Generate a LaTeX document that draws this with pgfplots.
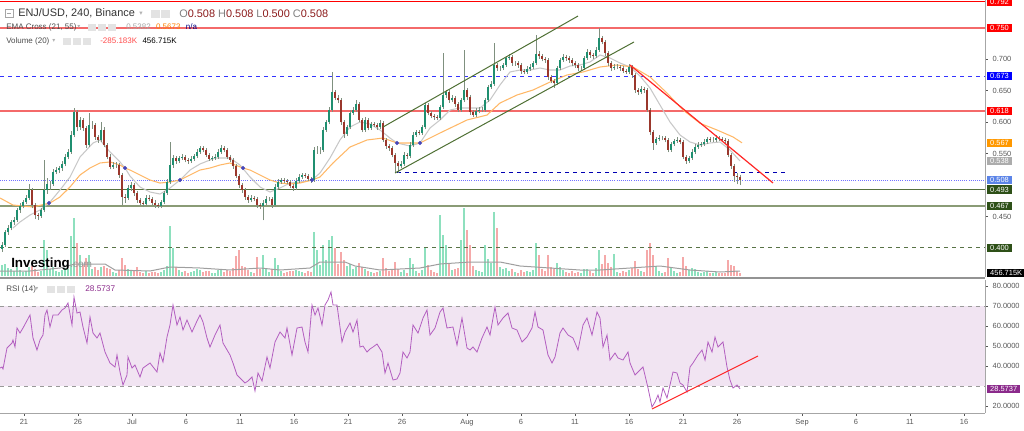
\documentclass[border=0pt]{standalone}
\usepackage{pgfplots}
\pgfplotsset{compat=1.18}
\usepackage{pgfplotstable}
\usepackage{fontspec}
\setmainfont{Liberation Sans}
\newfontfamily\dejavu{DejaVu Sans}
\definecolor{upc}{HTML}{1F8F70}
\definecolor{dnc}{HTML}{9A372C}
\definecolor{wickc}{HTML}{7F907F}
\definecolor{volg}{HTML}{8EE0BE}
\definecolor{volr}{HTML}{F5A9A9}
\definecolor{emag}{HTML}{C8C8C8}
\definecolor{emao}{HTML}{FFB868}
\definecolor{rsic}{HTML}{B35FC0}
\definecolor{rsifill}{HTML}{F1E4F2}
\definecolor{olive1}{HTML}{56703C}
\definecolor{olive2}{HTML}{8A9B76}
\definecolor{dgreen}{HTML}{2E5018}
\definecolor{chan}{HTML}{4F7034}
\definecolor{lred}{HTML}{F46A6A}
\definecolor{tickc}{HTML}{555555}
\definecolor{valred}{HTML}{8B1A1A}
\definecolor{rsibox}{HTML}{8B2A8B}
\pgfkeys{/pgf/number format/assume math mode=true}
\pgfplotstableread{
x o h l c v
2 0.398 0.410 0.394 0.405 1.6
5 0.405 0.428 0.402 0.425 1.8
8 0.425 0.436 0.421 0.432 1.2
11 0.432 0.445 0.428 0.441 1.0
14 0.441 0.449 0.437 0.445 0.7
17 0.445 0.464 0.442 0.460 1.3
20 0.460 0.471 0.456 0.467 0.9
23 0.467 0.477 0.463 0.473 0.6
26 0.473 0.484 0.470 0.480 0.8
29 0.480 0.502 0.477 0.492 1.4
32 0.492 0.495 0.463 0.468 1.5
35 0.468 0.471 0.446 0.452 1.1
38 0.452 0.456 0.445 0.451 0.6
41 0.451 0.464 0.448 0.460 0.8
44 0.460 0.540 0.457 0.492 5.4
47 0.492 0.512 0.486 0.502 3.9
50 0.502 0.507 0.493 0.502 1.0
53 0.502 0.525 0.499 0.521 1.4
56 0.521 0.529 0.517 0.524 0.7
59 0.524 0.531 0.520 0.527 0.6
62 0.527 0.538 0.523 0.534 0.9
65 0.534 0.550 0.530 0.545 1.2
68 0.545 0.557 0.541 0.553 1.0
71 0.553 0.586 0.550 0.580 6.0
74 0.580 0.623 0.576 0.616 8.7
77 0.616 0.619 0.586 0.592 5.0
80 0.592 0.609 0.588 0.604 3.2
83 0.604 0.607 0.586 0.591 1.6
86 0.591 0.594 0.559 0.564 2.7
89 0.564 0.615 0.561 0.596 3.2
92 0.596 0.602 0.590 0.596 1.1
95 0.596 0.599 0.572 0.577 1.3
98 0.577 0.580 0.567 0.572 0.9
101 0.572 0.600 0.569 0.588 1.4
104 0.588 0.592 0.560 0.564 1.5
107 0.564 0.567 0.541 0.545 1.2
110 0.545 0.549 0.525 0.529 1.0
113 0.529 0.537 0.526 0.532 0.6
116 0.532 0.536 0.528 0.532 0.5
119 0.532 0.535 0.512 0.516 0.9
122 0.516 0.519 0.468 0.481 2.7
125 0.481 0.486 0.472 0.480 1.6
128 0.480 0.500 0.477 0.495 1.1
131 0.495 0.505 0.491 0.500 0.8
134 0.500 0.503 0.483 0.487 0.7
137 0.487 0.491 0.472 0.476 1.3
140 0.476 0.480 0.468 0.472 0.6
143 0.472 0.475 0.465 0.470 0.5
146 0.470 0.484 0.467 0.480 0.7
149 0.480 0.484 0.474 0.478 0.5
152 0.478 0.481 0.468 0.472 0.6
155 0.472 0.476 0.464 0.468 0.6
158 0.468 0.471 0.463 0.467 0.4
161 0.467 0.477 0.464 0.473 0.6
164 0.473 0.491 0.470 0.487 0.9
167 0.487 0.509 0.484 0.505 1.5
170 0.505 0.568 0.502 0.532 7.5
173 0.532 0.548 0.528 0.543 4.2
176 0.543 0.546 0.534 0.538 1.4
179 0.538 0.547 0.535 0.543 0.9
182 0.543 0.549 0.540 0.545 0.6
185 0.545 0.548 0.536 0.540 0.7
188 0.540 0.543 0.534 0.538 0.5
191 0.538 0.546 0.535 0.542 0.6
194 0.542 0.550 0.539 0.546 0.8
197 0.546 0.557 0.543 0.553 1.0
200 0.553 0.563 0.550 0.559 0.9
203 0.559 0.562 0.552 0.556 0.6
206 0.556 0.559 0.544 0.548 0.8
209 0.548 0.551 0.538 0.542 0.7
212 0.542 0.547 0.539 0.543 0.4
215 0.543 0.549 0.540 0.545 0.5
218 0.545 0.557 0.542 0.553 0.9
221 0.553 0.564 0.550 0.559 1.1
224 0.559 0.562 0.552 0.556 0.6
227 0.556 0.559 0.541 0.545 0.9
230 0.545 0.548 0.536 0.540 0.7
233 0.540 0.543 0.526 0.530 1.2
236 0.530 0.533 0.511 0.515 3.0
239 0.515 0.518 0.496 0.500 3.9
242 0.500 0.503 0.488 0.492 1.5
245 0.492 0.495 0.477 0.481 1.3
248 0.481 0.484 0.472 0.476 0.9
251 0.476 0.484 0.473 0.480 0.6
254 0.480 0.483 0.474 0.478 0.5
257 0.478 0.481 0.464 0.468 2.9
260 0.468 0.471 0.462 0.467 1.0
263 0.467 0.476 0.444 0.472 3.2
266 0.472 0.482 0.469 0.478 1.2
269 0.478 0.481 0.474 0.478 0.6
272 0.478 0.481 0.464 0.468 1.1
275 0.468 0.501 0.465 0.497 2.7
278 0.497 0.509 0.494 0.505 1.6
281 0.505 0.512 0.502 0.508 0.8
284 0.508 0.511 0.503 0.507 0.5
287 0.507 0.510 0.501 0.505 0.6
290 0.505 0.508 0.495 0.499 0.7
293 0.499 0.502 0.491 0.495 0.8
296 0.495 0.511 0.492 0.507 0.9
299 0.507 0.517 0.504 0.513 0.8
302 0.513 0.520 0.510 0.516 0.6
305 0.516 0.519 0.511 0.515 0.5
308 0.515 0.518 0.506 0.510 0.7
311 0.510 0.513 0.504 0.508 0.6
314 0.508 0.560 0.505 0.556 6.6
317 0.556 0.562 0.550 0.556 3.9
320 0.556 0.560 0.549 0.556 1.6
323 0.556 0.592 0.553 0.588 4.7
326 0.588 0.604 0.585 0.600 2.4
329 0.600 0.624 0.597 0.620 5.4
332 0.620 0.680 0.617 0.648 6.0
335 0.648 0.652 0.635 0.639 4.2
338 0.639 0.643 0.630 0.635 1.8
341 0.635 0.638 0.596 0.600 3.6
344 0.600 0.603 0.575 0.581 2.4
347 0.581 0.596 0.578 0.592 1.5
350 0.592 0.619 0.589 0.615 1.8
353 0.615 0.624 0.612 0.620 1.0
356 0.620 0.636 0.617 0.629 1.3
359 0.629 0.632 0.600 0.604 1.9
362 0.604 0.607 0.584 0.588 1.4
365 0.588 0.608 0.585 0.604 1.0
368 0.604 0.607 0.587 0.591 0.8
371 0.591 0.601 0.588 0.597 0.6
374 0.597 0.600 0.593 0.596 0.5
377 0.596 0.599 0.588 0.592 0.6
380 0.592 0.603 0.589 0.599 0.7
383 0.599 0.602 0.568 0.572 2.7
386 0.572 0.575 0.558 0.562 1.2
389 0.562 0.565 0.555 0.559 0.7
392 0.559 0.562 0.544 0.548 1.0
395 0.548 0.551 0.520 0.535 2.1
398 0.535 0.538 0.520 0.530 1.1
401 0.530 0.538 0.527 0.534 0.6
404 0.534 0.552 0.531 0.548 0.9
407 0.548 0.551 0.542 0.546 0.5
410 0.546 0.568 0.543 0.564 2.7
413 0.564 0.584 0.561 0.580 1.8
416 0.580 0.588 0.577 0.584 0.8
419 0.584 0.587 0.579 0.583 0.5
422 0.583 0.596 0.580 0.592 0.9
425 0.592 0.631 0.589 0.627 4.2
428 0.627 0.630 0.611 0.615 1.6
431 0.615 0.618 0.606 0.610 0.9
434 0.610 0.613 0.604 0.608 0.6
437 0.608 0.611 0.603 0.607 0.5
440 0.607 0.628 0.604 0.624 9.2
443 0.624 0.710 0.621 0.643 6.2
446 0.643 0.652 0.639 0.648 4.7
449 0.648 0.651 0.631 0.635 2.0
452 0.635 0.643 0.632 0.639 0.9
455 0.639 0.642 0.625 0.629 1.0
458 0.629 0.632 0.616 0.620 1.2
461 0.620 0.639 0.617 0.635 5.4
464 0.635 0.715 0.632 0.651 10.2
467 0.651 0.654 0.636 0.640 6.9
470 0.640 0.643 0.612 0.616 4.7
473 0.616 0.619 0.608 0.612 1.5
476 0.612 0.622 0.609 0.618 0.9
479 0.618 0.624 0.614 0.620 0.7
482 0.620 0.624 0.616 0.620 0.6
485 0.620 0.639 0.617 0.635 4.7
488 0.635 0.660 0.632 0.656 2.5
491 0.656 0.665 0.653 0.661 2.0
494 0.661 0.726 0.658 0.691 9.6
497 0.691 0.695 0.682 0.686 7.2
500 0.686 0.690 0.682 0.686 1.4
503 0.686 0.695 0.683 0.691 1.0
506 0.691 0.706 0.688 0.702 1.2
509 0.702 0.708 0.699 0.704 0.8
512 0.704 0.707 0.690 0.694 1.0
515 0.694 0.698 0.690 0.694 0.6
518 0.694 0.697 0.687 0.691 0.5
521 0.691 0.694 0.677 0.681 0.9
524 0.681 0.684 0.676 0.680 0.6
527 0.680 0.689 0.677 0.685 0.7
530 0.685 0.692 0.682 0.688 0.6
533 0.688 0.698 0.685 0.694 0.9
536 0.694 0.739 0.691 0.709 5.0
539 0.709 0.713 0.701 0.705 3.2
542 0.705 0.708 0.697 0.701 1.0
545 0.701 0.704 0.695 0.699 0.8
548 0.699 0.702 0.668 0.672 3.2
551 0.672 0.675 0.662 0.666 1.4
554 0.666 0.669 0.655 0.662 1.1
557 0.662 0.690 0.659 0.686 1.9
560 0.686 0.703 0.683 0.699 1.3
563 0.699 0.708 0.696 0.704 0.9
566 0.704 0.707 0.698 0.702 0.6
569 0.702 0.705 0.695 0.699 0.5
572 0.699 0.702 0.690 0.694 0.7
575 0.694 0.697 0.687 0.691 0.5
578 0.691 0.694 0.682 0.686 0.6
581 0.686 0.690 0.682 0.686 0.4
584 0.686 0.706 0.683 0.702 1.0
587 0.702 0.716 0.699 0.712 1.1
590 0.712 0.715 0.703 0.707 0.7
593 0.707 0.710 0.701 0.705 0.5
596 0.705 0.719 0.702 0.715 1.2
599 0.715 0.750 0.712 0.734 3.9
602 0.734 0.738 0.724 0.728 1.8
605 0.728 0.731 0.706 0.710 3.2
608 0.710 0.713 0.690 0.694 1.9
611 0.694 0.697 0.682 0.686 1.4
614 0.686 0.692 0.683 0.688 3.3
617 0.688 0.692 0.684 0.688 0.6
620 0.688 0.691 0.682 0.686 0.5
623 0.686 0.689 0.678 0.682 0.7
626 0.682 0.685 0.676 0.680 0.6
629 0.680 0.693 0.677 0.688 0.9
632 0.688 0.691 0.671 0.675 1.2
635 0.675 0.678 0.647 0.651 2.2
638 0.651 0.654 0.644 0.648 1.0
641 0.648 0.657 0.645 0.653 0.7
644 0.653 0.656 0.647 0.651 0.6
647 0.651 0.654 0.616 0.620 3.9
650 0.620 0.623 0.580 0.584 5.0
653 0.584 0.587 0.556 0.567 3.2
656 0.567 0.577 0.564 0.573 1.5
659 0.573 0.579 0.570 0.575 0.8
662 0.575 0.578 0.571 0.575 0.5
665 0.575 0.578 0.568 0.572 0.6
668 0.572 0.575 0.552 0.556 2.7
671 0.556 0.569 0.553 0.565 1.3
674 0.565 0.574 0.562 0.570 0.8
677 0.570 0.576 0.567 0.572 0.5
680 0.572 0.575 0.565 0.569 0.6
683 0.569 0.572 0.541 0.545 2.9
686 0.545 0.548 0.534 0.538 1.5
689 0.538 0.547 0.535 0.543 0.9
692 0.543 0.557 0.540 0.553 1.2
695 0.553 0.565 0.550 0.561 1.0
698 0.561 0.568 0.558 0.564 0.6
701 0.564 0.569 0.561 0.565 0.5
704 0.565 0.573 0.562 0.569 0.6
707 0.569 0.577 0.566 0.573 0.7
710 0.573 0.576 0.568 0.572 0.4
713 0.572 0.576 0.569 0.572 0.4
716 0.572 0.579 0.569 0.575 0.6
719 0.575 0.578 0.570 0.573 0.5
722 0.573 0.576 0.569 0.572 0.4
725 0.572 0.575 0.567 0.570 0.5
728 0.570 0.573 0.544 0.548 2.4
731 0.548 0.551 0.526 0.530 1.7
734 0.530 0.533 0.505 0.514 1.5
737 0.514 0.520 0.501 0.513 0.8
740 0.513 0.516 0.500 0.508 0.46
}\candles
\pgfplotsset{panel/.style={at={(0pt,114.75pt)}, anchor=south west, scale only axis,
  width=738.75pt, height=207.75pt, xmin=0, xmax=985}}
\tikzset{pbox/.style={anchor=west, inner xsep=2.2pt, inner ysep=1.1pt, xshift=1.5pt,
  font=\fontsize{5.6}{6}\selectfont, text=white}}
\begin{document}
\begin{tikzpicture}[x=0.75pt,y=0.75pt]
% ---------------- volume ----------------
\begin{axis}[panel, ymin=-0.15, ymax=41.4, hide axis, clip=true]
\addplot[ycomb, volg, line width=1.1pt, mark=none, unbounded coords=discard,
  restrict expr to domain={\thisrow{c}-\thisrow{o}}{0:1}] table[x=x,y=v]{\candles};
\addplot[ycomb, volr, line width=1.1pt, mark=none, unbounded coords=discard,
  restrict expr to domain={\thisrow{o}-\thisrow{c}}{0.00001:1}] table[x=x,y=v]{\candles};
\addplot[gray!75, line width=0.75pt, mark=none] coordinates {(0,0.75)(30,0.75)(60,1.2)(75,1.8)(105,1.8)(115,0.9)(150,0.75)(170,1.35)(200,1.2)(230,0.9)(260,1.2)(280,0.9)(310,1.2)(320,2.1)(345,2.1)(355,1.5)(380,0.9)(420,1.2)(440,1.8)(470,2.1)(500,2.1)(520,1.5)(550,1.2)(580,0.9)(600,0.9)(630,1.2)(660,1.5)(690,0.9)(720,0.6)(740,0.75)};
\coordinate (Lvol) at (axis cs:985,0.457);
\end{axis}
% ---------------- price ----------------
\begin{axis}[panel, ymin=0.3538, ymax=0.7945, clip=true,
  axis x line=none, axis y line*=right,
  axis line style={draw=gray!70, line width=0.75pt},
  ytick={0.45,0.55,0.6,0.65,0.7},
  yticklabel={\pgfmathprintnumber[fixed,fixed zerofill,precision=3]{\tick}},
  yticklabel style={font=\fontsize{5.6}{6}\selectfont, text=tickc},
  tick align=outside, major tick length=2.2pt, tick style={draw=tickc, line width=0.5pt}]
\addplot[red, line width=0.75pt, mark=none] coordinates {(0,0.792)(985,0.792)};
\addplot[lred, line width=1.1pt, mark=none] coordinates {(0,0.750)(985,0.750)};
\addplot[blue!80, dashed, line width=0.75pt, mark=none] coordinates {(0,0.673)(985,0.673)};
\addplot[lred, line width=1.1pt, mark=none] coordinates {(0,0.618)(985,0.618)};
\addplot[blue!55, densely dotted, line width=0.6pt, mark=none] coordinates {(0,0.508)(985,0.508)};
\addplot[olive1, line width=0.75pt, mark=none] coordinates {(0,0.493)(985,0.493)};
\addplot[olive2, line width=1.2pt, mark=none] coordinates {(0,0.467)(985,0.467)};
\addplot[dgreen!80, dashed, line width=0.75pt, mark=none] coordinates {(0,0.400)(985,0.400)};
\addplot[blue!70!black, dashed, line width=0.75pt, mark=none] coordinates {(397,0.5193)(785,0.5193)};
% EMA 21
\addplot[emag, line width=0.8pt, mark=none] coordinates {(13,0.4318)(20,0.4413)(30,0.4524)(40,0.4604)(50,0.4731)(60,0.4922)(70,0.5129)(80,0.5447)(93,0.5670)(100,0.5718)(110,0.5527)(120,0.5368)(125,0.5272)(130,0.5145)(140,0.4970)(150,0.4890)(160,0.4858)(170,0.4954)(180,0.5081)(190,0.5240)(200,0.5336)(215,0.5431)(230,0.5431)(240,0.5320)(250,0.5129)(260,0.4970)(270,0.4890)(280,0.4954)(290,0.5033)(300,0.5049)(312,0.5081)(320,0.5193)(330,0.5431)(340,0.5718)(350,0.5924)(360,0.6004)(370,0.5972)(380,0.5877)(390,0.5749)(397,0.5670)(410,0.5622)(420,0.5670)(430,0.5909)(440,0.6036)(450,0.6195)(460,0.6227)(470,0.6227)(480,0.6227)(490,0.6354)(500,0.6593)(510,0.6800)(520,0.6831)(530,0.6831)(540,0.6863)(550,0.6831)(560,0.6831)(570,0.6895)(580,0.6911)(590,0.6959)(600,0.7070)(610,0.7022)(620,0.6943)(630,0.6879)(640,0.6736)(650,0.6545)(660,0.6274)(670,0.6004)(680,0.5797)(690,0.5686)(700,0.5638)(710,0.5670)(720,0.5686)(730,0.5559)(740,0.5384)};
% EMA 55
\addplot[emao, line width=0.8pt, mark=none] coordinates {(0,0.4795)(13,0.4683)(33,0.4652)(50,0.4715)(60,0.4811)(70,0.4970)(80,0.5161)(90,0.5272)(100,0.5352)(110,0.5368)(120,0.5320)(125,0.5272)(130,0.5240)(140,0.5161)(150,0.5081)(160,0.5033)(170,0.5049)(180,0.5081)(190,0.5161)(200,0.5240)(210,0.5272)(220,0.5320)(230,0.5352)(243,0.5272)(250,0.5240)(260,0.5161)(270,0.5081)(280,0.5033)(290,0.5018)(300,0.5033)(312,0.5081)(320,0.5129)(333,0.5352)(350,0.5606)(367,0.5718)(383,0.5749)(397,0.5670)(420,0.5670)(440,0.5829)(467,0.6036)(487,0.6115)(500,0.6306)(517,0.6434)(533,0.6513)(550,0.6640)(567,0.6752)(583,0.6800)(600,0.6879)(617,0.6911)(633,0.6879)(650,0.6720)(667,0.6465)(683,0.6195)(700,0.5984)(717,0.5877)(733,0.5766)(742,0.5673)};
% wicks
\addplot[draw=none, mark=none, forget plot,
  error bars/.cd, y dir=plus, y explicit, error mark=none,
  error bar style={draw=wickc, solid, line width=0.55pt}]
  table[x=x, y=l, y error expr=\thisrow{h}-\thisrow{l}] {\candles};
% up bodies
\addplot[draw=none, mark=none, forget plot, unbounded coords=discard,
  restrict expr to domain={\thisrow{c}-\thisrow{o}}{0:1},
  error bars/.cd, y dir=plus, y explicit, error mark=none,
  error bar style={draw=upc, solid, line width=1.55pt}]
  table[x=x, y=o, y error expr=\thisrow{c}-\thisrow{o}] {\candles};
% down bodies
\addplot[draw=none, mark=none, forget plot, unbounded coords=discard,
  restrict expr to domain={\thisrow{o}-\thisrow{c}}{0.00001:1},
  error bars/.cd, y dir=plus, y explicit, error mark=none,
  error bar style={draw=dnc, solid, line width=1.55pt}]
  table[x=x, y=c, y error expr=\thisrow{o}-\thisrow{c}] {\candles};
% channel and trend lines
\addplot[chan, line width=0.75pt, mark=none] coordinates {(383,0.5924)(578,0.7690)};
\addplot[chan, line width=0.75pt, mark=none] coordinates {(395,0.5193)(634,0.7277)};
\addplot[red!85, line width=0.9pt, mark=none] coordinates {(630,0.6911)(773,0.5034)};
% EMA cross dots
\addplot[only marks, mark=*, mark size=1.3pt, color=blue!45!gray] coordinates {(49,0.4715)(125,0.5272)(180,0.5081)(243,0.5272)(312,0.5081)(397,0.5670)(420,0.5670)};
\coordinate (L792) at (axis cs:985,0.792);
\coordinate (L750) at (axis cs:985,0.750);
\coordinate (L673) at (axis cs:985,0.673);
\coordinate (L618) at (axis cs:985,0.618);
\coordinate (L567) at (axis cs:985,0.5673);
\coordinate (L538) at (axis cs:985,0.5382);
\coordinate (L508) at (axis cs:985,0.508);
\coordinate (L493) at (axis cs:985,0.493);
\coordinate (L467) at (axis cs:985,0.467);
\coordinate (L400) at (axis cs:985,0.400);
\end{axis}
% ---------------- RSI ----------------
\begin{axis}[at={(0pt,12.75pt)}, anchor=south west, scale only axis,
  width=738.75pt, height=99.75pt, xmin=0, xmax=985, ymin=16.5, ymax=83, clip=true,
  axis x line*=bottom, axis y line*=right,
  axis line style={draw=gray!70, line width=0.75pt},
  xtick={24,78,132,186,240,294,348,402,467,521,575,629,683,737,802,856,910,964},
  xticklabels={21,26,Jul,6,11,16,21,26,Aug,6,11,16,21,26,Sep,6,11,16},
  ytick={20,40,50,60,70,80},
  yticklabel={\pgfmathprintnumber[fixed,fixed zerofill,precision=4]{\tick}},
  ticklabel style={font=\fontsize{5.6}{6}\selectfont, text=tickc},
  xticklabel style={yshift=1pt},
  tick align=outside, major tick length=2.2pt, tick style={draw=tickc, line width=0.5pt}]
\addplot[fill=rsifill, draw=none, forget plot] coordinates {(0,30)(985,30)(985,70)(0,70)} -- cycle;
\addplot[gray!80, dashed, line width=0.6pt, mark=none] coordinates {(0,70)(985,70)};
\addplot[gray!80, dashed, line width=0.6pt, mark=none] coordinates {(0,30)(985,30)};
\addplot[rsic, line width=0.6pt, mark=none] coordinates {(0,39)(2,39.5)(3,38.5)(7,49)(12,51.5)(13,53)(15,49.5)(17,59)(20,56.5)(23,59)(30,65.5)(33,54)(37,48)(40,53)(43,55.5)(45,65.5)(47,68)(50,59.5)(53,65.5)(58,65.5)(62,68)(65,69)(68,71.5)(72,60.5)(74,74.5)(77,66.5)(80,67)(83,59.5)(87,51.5)(90,64.5)(93,56.5)(97,54)(100,56.5)(105,47)(110,41.5)(115,39.5)(117,45.5)(120,37)(123,30.5)(127,35.5)(128,44.5)(132,39)(135,40.5)(140,34.5)(143,39)(150,41.5)(157,37)(160,46.5)(163,42)(167,54.5)(170,60.5)(173,70.5)(177,60.5)(180,64.5)(183,58)(187,63)(192,57)(197,62.5)(200,65.5)(203,62)(207,54)(210,49.5)(215,55.5)(220,60.5)(223,51.5)(230,45.5)(233,41.5)(237,35.5)(240,34)(245,31.5)(248,32.5)(252,34.5)(255,27.5)(258,36.5)(262,32.5)(267,44.5)(270,39)(275,52)(280,57)(285,54)(287,59)(292,45.5)(297,59)(302,59.5)(305,52)(308,47)(312,70.5)(315,65.5)(318,69)(322,60.5)(325,70.5)(328,73)(331,77)(333,70.5)(337,70.5)(342,52)(345,57)(350,61.5)(353,57)(357,63)(360,49.5)(363,50)(367,47)(370,48.5)(373,49.5)(377,51)(382,47)(385,36.5)(388,41.5)(393,33)(397,33.5)(400,36.5)(403,47)(407,44)(410,47)(413,60.5)(418,56.5)(423,64)(427,68)(430,55.5)(435,59)(440,67)(443,69)(447,59)(453,59.5)(457,50.5)(462,64)(467,49)(470,48)(473,49.5)(477,47)(482,54)(487,59.5)(490,55.5)(495,69.5)(498,60.5)(503,64)(508,66.5)(512,59)(517,58)(522,52)(527,54.5)(532,59)(535,67)(538,59.5)(543,58)(548,45.5)(552,41.5)(555,44.5)(560,56.5)(563,59)(568,55.5)(573,54)(578,48)(583,60.5)(587,64)(592,55.5)(597,67)(600,64)(603,49.5)(607,55.5)(610,43)(615,46.5)(618,44)(623,43)(628,47)(630,41.5)(635,35.5)(638,37)(643,39.5)(648,29)(652,19.5)(655,22)(658,25.5)(660,22)(663,29)(667,24)(670,30.5)(673,37)(677,36.5)(680,31.5)(683,30.5)(687,27)(690,39.5)(693,41.5)(698,45.5)(702,48)(705,43)(708,52)(712,47)(715,54.5)(718,49.5)(723,52)(727,39.5)(730,33)(733,29)(737,30.5)(740,28.6)};
\addplot[red!85, line width=0.8pt, mark=none] coordinates {(652,18.5)(758,45)};
\coordinate (Lrsi) at (axis cs:985,28.5737);
\end{axis}
% separator between panels
\draw[gray!85, line width=1.2pt] (0,152) -- (985,152);
% right-hand value boxes
\node[pbox, fill=red] at (L792) {0.792};
\node[pbox, fill=red] at (L750) {0.750};
\node[pbox, fill=blue] at (L673) {0.673};
\node[pbox, fill=red] at (L618) {0.618};
\node[pbox, fill={rgb,255:red,255;green,152;blue,0}] at (L567) {0.567};
\node[pbox, fill=gray!65] at (L538) {0.538};
\node[pbox, fill={rgb,255:red,91;green,132;blue,232}] at (L508) {0.508};
\node[pbox, fill=dgreen] at (L493) {0.493};
\node[pbox, fill=dgreen] at (L467) {0.467};
\node[pbox, fill=dgreen] at (L400) {0.400};
\node[pbox, fill=black] at (Lvol) {456.715K};
\node[pbox, fill=rsibox] at (Lrsi) {28.5737};
% header texts
\draw[gray!70, line width=0.5pt] (5,412.5) rectangle (13,420.5);
\draw[gray!70, line width=0.5pt] (6.8,416.5) -- (11.2,416.5);
\node[anchor=west, inner sep=0pt, font=\fontsize{8.2}{9}\selectfont, text=black!80] at (18,416.5) {ENJ/USD, 240, Binance};
\node[anchor=west, inner sep=0pt, font=\dejavu\fontsize{5}{6}\selectfont, text=gray!60] at (139,416.5) {▾};
\foreach \ix in {151,161} {\fill[gray!22] (\ix,412.5) rectangle ++(8.5,8);}
\node[anchor=west, inner sep=0pt, font=\fontsize{8.2}{9}\selectfont] at (179,416.5)
  {\textcolor{gray}{O}\textcolor{valred}{0.508} \textcolor{gray}{H}\textcolor{valred}{0.508} \textcolor{gray}{L}\textcolor{valred}{0.500} \textcolor{gray}{C}\textcolor{valred}{0.508}};
\node[anchor=west, inner sep=0pt, font=\fontsize{6}{7}\selectfont, text=black!70] at (6,403) {EMA Cross (21, 55)};
\node[anchor=west, inner sep=0pt, font=\dejavu\fontsize{4.5}{5}\selectfont, text=gray!60] at (77,403) {▾};
\foreach \ix in {88,98,108} {\fill[gray!22] (\ix,399) rectangle ++(8,7.5);}
\node[anchor=west, inner sep=0pt, font=\fontsize{6}{7}\selectfont] at (126,403)
  {\textcolor{gray!70}{0.5382}\hspace{4pt}\textcolor{orange}{0.5673}\hspace{4pt}\textcolor{blue!50!black}{n/a}};
\node[anchor=west, inner sep=0pt, font=\fontsize{6}{7}\selectfont, text=black!70] at (6,389) {Volume (20)};
\node[anchor=west, inner sep=0pt, font=\dejavu\fontsize{4.5}{5}\selectfont, text=gray!60] at (52,389) {▾};
\foreach \ix in {63,73,83} {\fill[gray!22] (\ix,385) rectangle ++(8,7.5);}
\node[anchor=west, inner sep=0pt, font=\fontsize{6}{7}\selectfont] at (100,389)
  {\textcolor{red!70}{-285.183K}\hspace{4pt}\textcolor{black}{456.715K}};
\node[anchor=west, inner sep=0pt, font=\fontsize{6}{7}\selectfont, text=black!70] at (6,141) {RSI (14)};
\node[anchor=west, inner sep=0pt, font=\dejavu\fontsize{4.5}{5}\selectfont, text=gray!60] at (35,141) {▾};
\foreach \ix in {47,57,67} {\fill[gray!22] (\ix,137) rectangle ++(8,7.5);}
\node[anchor=west, inner sep=0pt, font=\fontsize{6.2}{7}\selectfont, text=rsibox] at (85,141) {28.5737};
% logo
\node[anchor=base west, inner sep=0pt, font=\bfseries\fontsize{10}{11}\selectfont, text=black] at (11,163) {Investing};
\node[anchor=base west, inner sep=0pt, font=\fontsize{7.5}{8}\selectfont, text=gray!80] at (70,163) {.com};
% fix page size
\pgfresetboundingbox
\path[use as bounding box] (0,0) rectangle (1024,430);
\end{tikzpicture}
\end{document}
